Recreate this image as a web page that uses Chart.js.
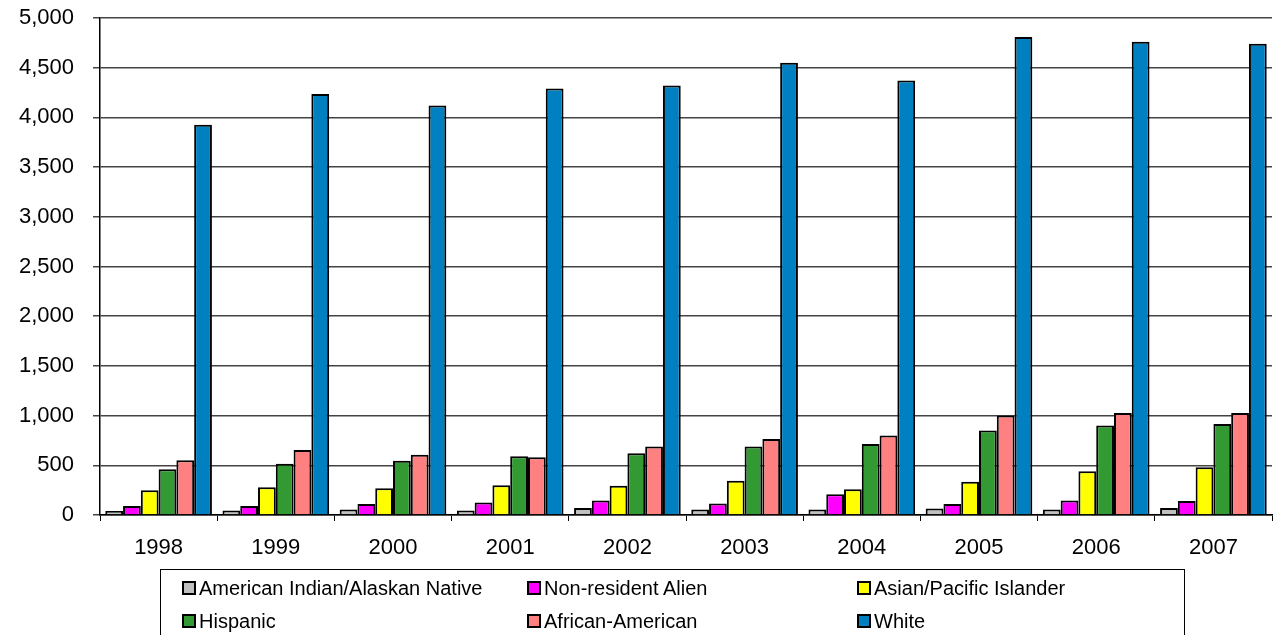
<!DOCTYPE html>
<html>
<head>
<meta charset="utf-8">
<script src="https://cdn.jsdelivr.net/npm/chart.js@4"></script>
<style>
    body { margin: 0; background: #fff; font-family: "Liberation Sans", Arial, sans-serif; }
    #wrap { position: relative; width: 1279px; height: 635px; overflow: hidden; }
    #legend {
        position: absolute; left: 160px; top: 569px; width: 1025px; height: 70px;
        border: 1px solid #000; box-sizing: border-box; font-size: 20px; color: #000;
    }
    .item { position: absolute; display: flex; align-items: center; height: 24px; }
    .box { width: 10px; height: 10px; border: 2px solid #000; margin-right: 3px; }
</style>
</head>
<body>
<div id="wrap">
    <canvas id="chart" width="1279" height="635"></canvas>
    <div id="legend"></div>
</div>
<script>
    // Data
    const years = ['1998', '1999', '2000', '2001', '2002', '2003', '2004', '2005', '2006', '2007'];
    const americanIndian = [40, 45, 55, 45, 70, 55, 55, 65, 55, 70];
    const nonResident = [90, 90, 110, 125, 145, 115, 210, 110, 145, 140];
    const asianPacific = [250, 280, 270, 300, 295, 345, 260, 335, 440, 480];
    const hispanic = [460, 515, 545, 590, 620, 690, 715, 850, 900, 915];
    const africanAmerican = [550, 655, 605, 580, 690, 765, 800, 1000, 1025, 1025];
    const white = [3925, 4235, 4120, 4290, 4320, 4550, 4370, 4810, 4760, 4740];
    const yTicks = [0, 500, 1000, 1500, 2000, 2500, 3000, 3500, 4000, 4500, 5000];

    const seriesList = [
        { label: 'American Indian/Alaskan Native', data: americanIndian, color: '#c0c0c0' },
        { label: 'Non-resident Alien', data: nonResident, color: '#ff00ff' },
        { label: 'Asian/Pacific Islander', data: asianPacific, color: '#ffff00' },
        { label: 'Hispanic', data: hispanic, color: '#339933' },
        { label: 'African-American', data: africanAmerican, color: '#ff8080' },
        { label: 'White', data: white, color: '#0080c0' }
    ];

    const font = { family: '"Liberation Sans", Arial, sans-serif', size: 22 };

    new Chart(document.getElementById('chart'), {
        type: 'bar',
        data: {
            labels: years,
            datasets: seriesList.map(s => ({
                label: s.label,
                data: s.data,
                backgroundColor: s.color,
                borderColor: '#000',
                borderWidth: 2,
                borderSkipped: 'bottom',
                categoryPercentage: 0.91,
                barPercentage: 1.0
            }))
        },
        options: {
            responsive: false,
            animation: false,
            layout: { padding: { top: 18, right: 7, bottom: 80, left: 0 } },
            plugins: { legend: { display: false }, tooltip: { enabled: false } },
            scales: {
                x: {
                    afterFit: a => { a.height = 40; a.paddingLeft = 0; a.paddingRight = 0; },
                    grid: { display: true, offset: true, drawOnChartArea: false, color: '#000', tickLength: 6 },
                    border: { color: '#000', width: 1.5 },
                    ticks: { color: '#000', font: font, padding: 14 }
                },
                y: {
                    min: 0, max: 5000,
                    afterFit: a => { a.width = 100; a.paddingTop = 0; a.paddingBottom = 0; },
                    afterBuildTicks: a => { a.ticks = yTicks.map(v => ({ value: v })); },
                    grid: { color: '#444', lineWidth: 1.5, tickLength: 7 },
                    border: { color: '#000', width: 1.5 },
                    ticks: {
                        color: '#000', font: font, padding: 19,
                        callback: v => v.toLocaleString('en-US')
                    }
                }
            }
        }
    });

    // Legend laid out in three columns like the original
    const legend = document.getElementById('legend');
    const cols = [21, 366, 696];
    seriesList.forEach((s, i) => {
        const el = document.createElement('div');
        el.className = 'item';
        el.style.left = cols[i % 3] + 'px';
        el.style.top = (i < 3 ? 6 : 39) + 'px';
        el.innerHTML = '<span class="box" style="background:' + s.color + '"></span>' + s.label;
        legend.appendChild(el);
    });
</script>
</body>
</html>
